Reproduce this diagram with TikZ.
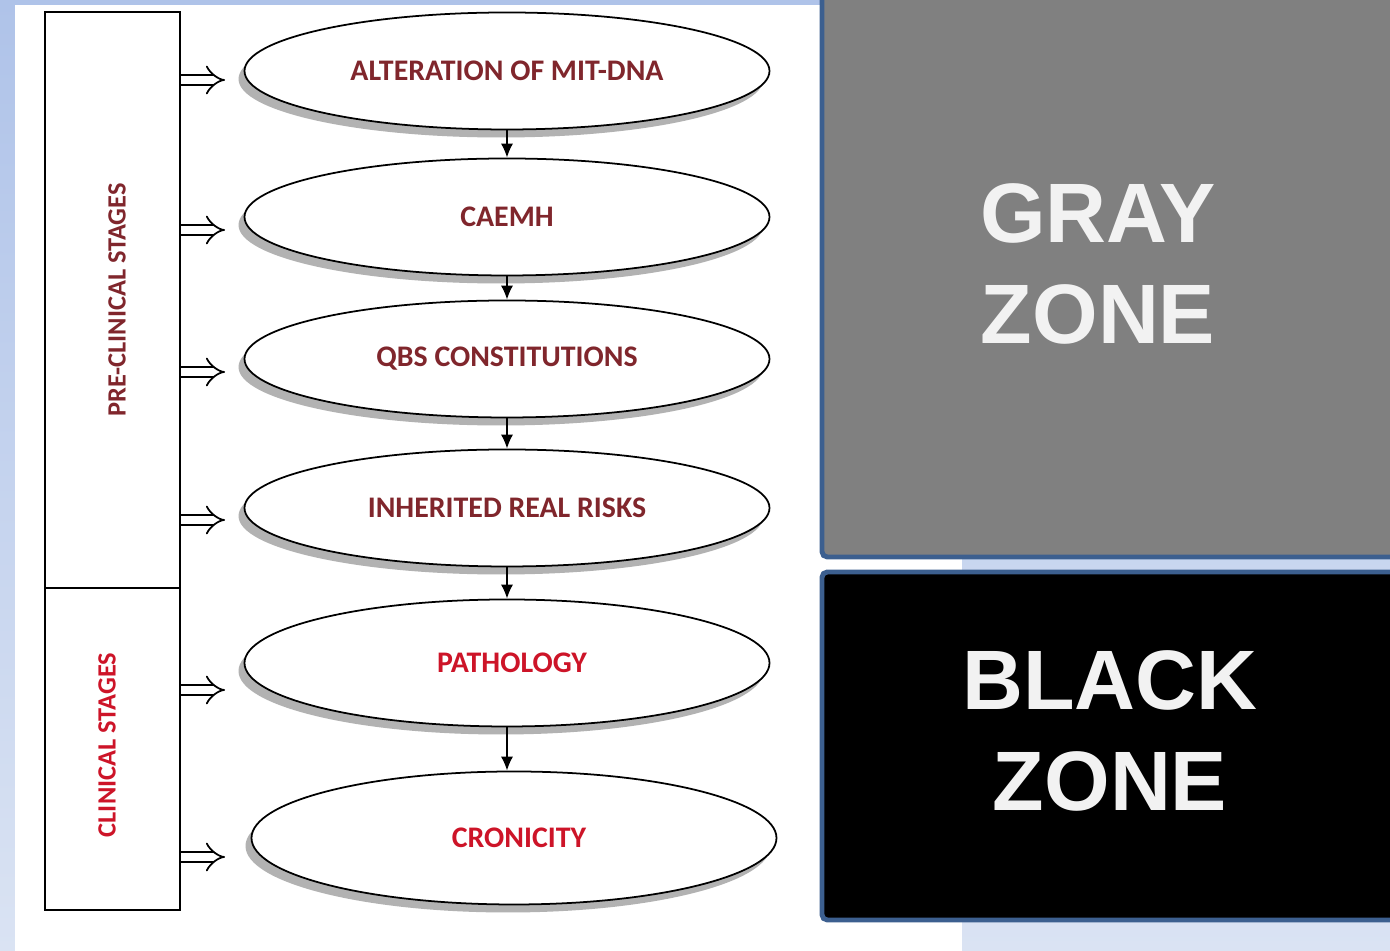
\documentclass[tikz,border=0pt]{standalone}
\usepackage{fontspec}
\setmainfont{Liberation Sans}
\newfontfamily\carlito{Carlito}
\usepackage{xcolor}
\usetikzlibrary{shapes,positioning,calc,shadows,arrows.meta}
\definecolor{bgblue}{RGB}{175,195,233}
\definecolor{bglight}{RGB}{218,227,243}
\definecolor{darkred}{RGB}{128,38,44}
\definecolor{brightred}{RGB}{205,20,40}
\definecolor{zoneblue}{RGB}{60,95,143}
\definecolor{zonegray}{RGB}{128,128,128}
\definecolor{zonetext}{RGB}{242,242,242}
\tikzstyle{stage} = [ellipse, draw, line width=0.5pt, fill=white, inner sep=0pt, minimum width=5.25cm, minimum height=1.17cm, font=\carlito\bfseries\fontsize{8.5}{10}\selectfont, drop shadow={shadow xshift=-0.06cm, shadow yshift=-0.08cm, fill=black!30, opacity=1}]
\tikzstyle{phase} = [rectangle, draw, line width=0.8pt, minimum width=1.35cm, inner sep=0pt]
\tikzstyle{phaselabel} = [rotate=90, font=\carlito\bfseries\fontsize{7.5}{9}\selectfont]
\tikzstyle{blockarrow} = [double, double distance=2.4pt, line width=0.5pt, -{Implies}]
\tikzstyle{step arrow} = [line width=0.5pt, -{Latex[length=4pt,width=3.5pt]}]
\tikzstyle{zone} = [draw=zoneblue, line width=1.4pt, rounded corners=1.5pt]
\tikzstyle{zonelabel} = [text=zonetext, align=center, font=\bfseries\fontsize{24}{29}\selectfont]

\begin{document}
\begin{tikzpicture}
	\useasboundingbox (0,0) rectangle (13.9,-9.51);
	% background
	\shade[top color=bgblue, bottom color=bglight] (0,0) rectangle (13.9,-9.51);
	\fill[white] (0.15,-0.05) rectangle (9.62,-9.51);
	% stage boxes
	\node[phase, minimum height=5.76cm] (pre) at (1.125,-3.00) {};
	\node[phase, minimum height=3.22cm] (cli) at (1.125,-7.49) {};
	\node[phaselabel, text=darkred] (prelabel) at (1.17,-3.00) {PRE-CLINICAL STAGES};
	\node[phaselabel, text=brightred] (clilabel) at (1.07,-7.45) {CLINICAL STAGES};
	% ellipses
	\node[stage, text=darkred] (e1) at (5.07,-0.71) {ALTERATION OF MIT-DNA};
	\node[stage, text=darkred] (e2) at (5.07,-2.17) {CAEMH};
	\node[stage, text=darkred] (e3) at (5.07,-3.59) {QBS CONSTITUTIONS};
	\node[stage, text=darkred] (e4) at (5.07,-5.08) {INHERITED REAL RISKS};
	\node[stage, text=brightred, minimum height=1.27cm] (e5) at (5.07,-6.63) {\hspace*{0.1cm}PATHOLOGY};
	\node[stage, text=brightred, minimum height=1.33cm] (e6) at (5.14,-8.38) {\hspace*{0.1cm}CRONICITY};
	% arrows between ellipses
	\draw[step arrow] (e1.south) -- (e2.north);
	\draw[step arrow] (e2.south) -- (e3.north);
	\draw[step arrow] (e3.south) -- (e4.north);
	\draw[step arrow] (e4.south) -- (e5.north);
	\draw[step arrow] (e5.south) -- (e5.south |- e6.north);
	% block arrows
	\foreach \y [count=\i] in {0.80,2.30,3.72,5.20} {
		\coordinate (t\i) at (2.25,-\y);
		\draw[blockarrow] (pre.east |- t\i) -- (t\i);
	}
	\foreach \y [count=\i from 5] in {6.90,8.57} {
		\coordinate (t\i) at (2.25,-\y);
		\draw[blockarrow] (cli.east |- t\i) -- (t\i);
	}
	% zones
	\draw[zone, fill=zonegray] (8.22,0.2) rectangle (14.2,-5.57);
	\draw[zone, fill=black] (8.22,-5.72) rectangle (14.2,-9.20);
	\node[zonelabel] (gray) at (10.98,-2.64) {GRAY\\ZONE};
	\node[zonelabel] (black) at (11.10,-7.31) {BLACK\\ZONE};
\end{tikzpicture}
\end{document}
